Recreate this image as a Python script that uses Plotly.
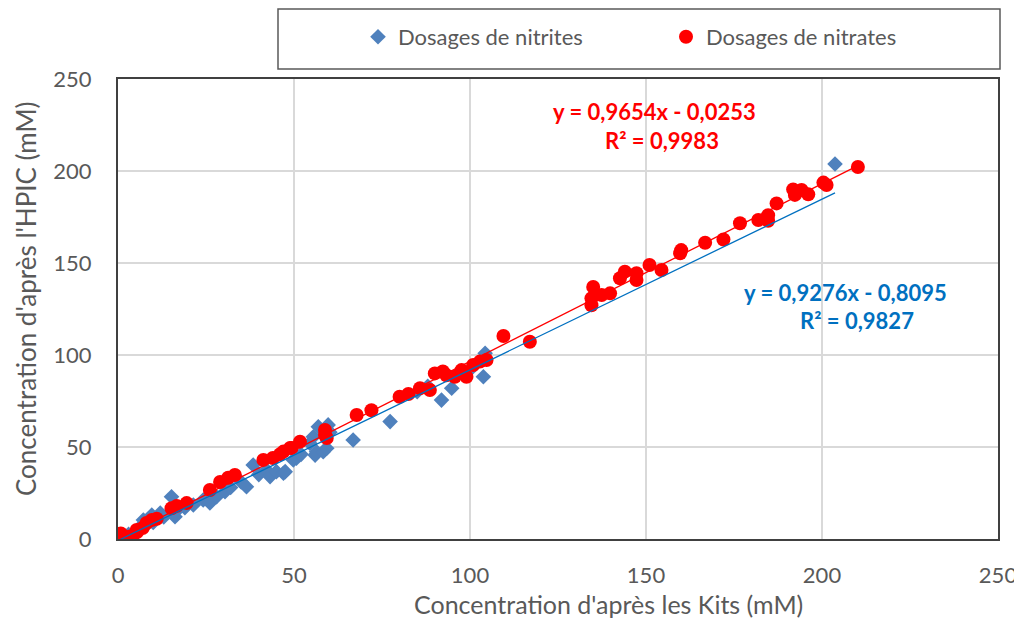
import plotly.graph_objects as go

# ---- data ----
nitrites_x = [0, 0.5, 1.4, 2, 3, 5.3, 6, 7.2, 8, 9.6, 10, 12, 13, 15.2, 16.2, 17, 19, 21.4,
              24.2, 26.1, 28, 30.4, 32, 35, 36.5, 38.4, 40, 42.2, 43.2, 45, 47, 47.5, 49.8,
              50.7, 52, 54.5, 55.5, 56, 56.4, 56.9, 58.3, 59.3, 59.7, 60.2, 66.8, 77.3, 85,
              88, 91.9, 94.8, 98, 100, 103.8, 104.3, 203.7]
nitrites_y = [1, 2, 1.3, 0.5, 2.5, 4, 6, 10.3, 7.5, 13, 9, 14.1, 12, 23, 12.1, 16, 17, 18.5,
              21.2, 19.6, 23, 25.7, 28, 31, 28.4, 40.2, 35, 37.5, 33.9, 36.6, 35.7, 36.6, 42.9,
              43.9, 46, 52, 55.6, 45.6, 47.4, 61, 47.4, 49.3, 62, 58, 53.8, 63.8, 80,
              83, 75.5, 81.9, 90, 92, 88.2, 100.9, 203.8]

nitrates_x = [0, 0.3, 0.8, 1.2, 3.4, 4, 5.3, 5.4, 7, 8.1, 9.6, 11, 15.2, 16.7, 19.5, 26.1, 29,
              31.3, 33.2, 41.3, 44, 46, 47, 48.9, 49.3, 51.7, 58.8, 58.8, 59.3, 67.8, 72,
              80, 82.5, 85.8, 88.6, 90, 92.3, 93.3, 95.7, 97.6, 99, 100.9, 102.8, 104.7,
              109.5, 117, 134.5, 134.5, 135, 137.4, 139.8, 142.6, 144, 147.3, 147.3, 151,
              154.4, 159.7, 160, 166.8, 172, 176.7, 181.9, 184.7, 184.7, 187.1, 191.8, 192.3,
              194.2, 196.1, 200.4, 201.3, 210.2]
nitrates_y = [2, 0.5, 3, 1, 1.3, 0, 4.9, 3.8, 6, 8.7, 10.3, 11, 16.7, 18, 19.5, 26.6, 31,
              33.3, 34.8, 43, 44, 46, 47.5, 49.5, 49.5, 52.9, 59.2, 56.5, 54.9, 67.4, 70,
              77.3, 78.8, 81.9, 81, 90, 91, 89, 88.2, 91.8, 88.2, 94.6, 96.4, 97.3,
              110.3, 107.2, 130.8, 127, 137, 132.6, 133.5, 141.7, 145.3, 144.4, 140.8, 148.9,
              146.2, 155.3, 157, 161, 162.8, 171.6, 173.4, 176, 173, 182.4, 190, 187,
              189.7, 187.3, 193.7, 192.4, 202.2]

# regression equations shown on chart
nit_a, nit_b, nit_xmax = 0.9276, -0.8095, 203.7
nat_a, nat_b, nat_xmax = 0.9654, -0.0253, 210.2

x_ticks = [0, 50, 100, 150, 200, 250]
y_ticks = [0, 50, 100, 150, 200, 250]

FONT = "Lato"
GREY = "#595959"

W, H = 1014, 614
L, R, T, B = 110, 24, 71, 83
PW, PH = W - L - R, H - T - B

fig = go.Figure()

fig.add_trace(go.Scatter(
    x=nitrites_x, y=nitrites_y, mode="markers", name="Dosages de nitrites",
    marker=dict(symbol="diamond", size=12, color="#4F81BD")))
fig.add_trace(go.Scatter(
    x=nitrates_x, y=nitrates_y, mode="markers", name="Dosages de nitrates",
    marker=dict(symbol="circle", size=14, color="#FF0000")))

fig.add_trace(go.Scatter(
    x=[0, nit_xmax], y=[nit_b, nit_a * nit_xmax + nit_b], mode="lines",
    line=dict(color="#0070C0", width=1.3), showlegend=False, hoverinfo="skip"))
fig.add_trace(go.Scatter(
    x=[0, nat_xmax], y=[nat_b, nat_a * nat_xmax + nat_b], mode="lines",
    line=dict(color="#FF0000", width=1.3), showlegend=False, hoverinfo="skip"))

ann_font_red = dict(family=FONT, size=22, color="#FF0000")
ann_font_blue = dict(family=FONT, size=22, color="#0070C0")
fig.add_annotation(x=152.4, y=232.1, xref="x", yref="y", showarrow=False,
                   text="<b>y = 0,9654x - 0,0253</b>", font=ann_font_red)
fig.add_annotation(x=154.5, y=216.8, xref="x", yref="y", showarrow=False,
                   text="<b>R² = 0,9983</b>", font=ann_font_red)
fig.add_annotation(x=206.8, y=134.2, xref="x", yref="y", showarrow=False,
                   text="<b>y = 0,9276x - 0,8095</b>", font=ann_font_blue)
fig.add_annotation(x=209.9, y=119.0, xref="x", yref="y", showarrow=False,
                   text="<b>R² = 0,9827</b>", font=ann_font_blue)

# axis titles (placed as in the reference, slightly off-centre)
fig.add_annotation(x=(600 - L) / PW, y=(T + PH - 613) / PH, xref="paper", yref="paper",
                   yanchor="bottom", showarrow=False,
                   text="Concentration d'après les Kits (mM)",
                   font=dict(family=FONT, size=25, color=GREY))
fig.add_annotation(x=(0 - L) / PW, y=(T + PH - 291) / PH, xref="paper", yref="paper",
                   xanchor="left", showarrow=False, textangle=-90,
                   text="Concentration d'après l'HPIC (mM)",
                   font=dict(family=FONT, size=26, color=GREY))

# legend frame
fig.add_shape(type="rect", xref="paper", yref="paper",
              x0=(270 - L) / PW, x1=(992 - L) / PW,
              y0=(T + PH - 61) / PH, y1=(T + PH - 1) / PH,
              line=dict(color="#595959", width=1.5), fillcolor="white", layer="below")

fig.update_layout(
    width=W, height=H,
    margin=dict(l=L, r=R, t=T, b=B, autoexpand=False),
    paper_bgcolor="white", plot_bgcolor="white",
    font=dict(family=FONT, color=GREY, size=22),
    legend=dict(orientation="h", xref="container", yref="container",
                x=350 / W, y=1 - 29 / H,
                xanchor="left", yanchor="middle",
                font=dict(family=FONT, size=22, color=GREY),
                entrywidth=263, entrywidthmode="pixels",
                bgcolor="rgba(0,0,0,0)"),
    xaxis=dict(range=[0, 250], tickvals=x_ticks, showgrid=True, gridcolor="#D9D9D9",
               gridwidth=1.5, zeroline=False, showline=True, mirror=True,
               linecolor="#404040", linewidth=2, ticks="", ticklabelstandoff=16),
    yaxis=dict(range=[0, 250], tickvals=y_ticks, showgrid=True, gridcolor="#D9D9D9",
               gridwidth=1.5, zeroline=False, showline=True, mirror=True,
               linecolor="#404040", linewidth=2, ticks="", ticklabelstandoff=20),
)

fig.write_html("out.html")
